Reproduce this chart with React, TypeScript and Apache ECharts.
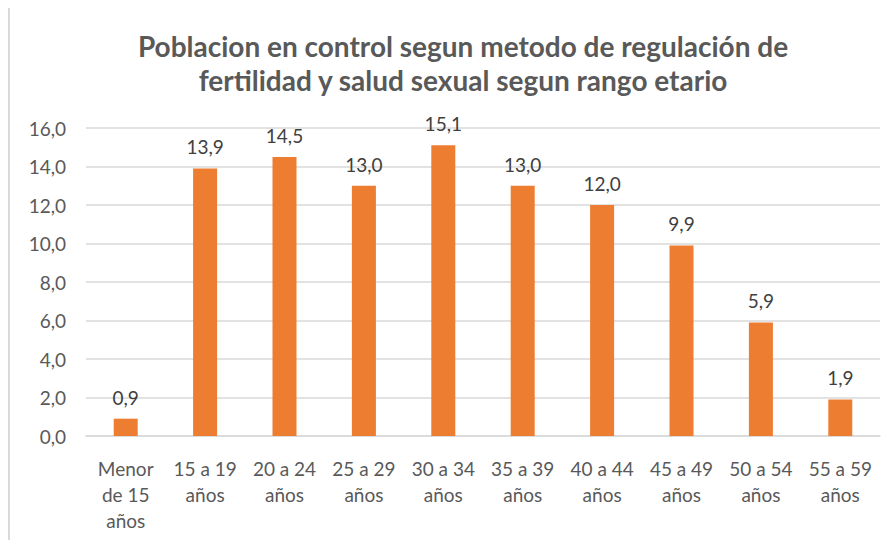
import React, { useEffect, useRef } from "react";
import * as echarts from "echarts";

const titleLines = [
  "Poblacion en control segun metodo de regulación de",
  "fertilidad y salud sexual segun rango etario",
];
const categories = [
  "Menor\nde 15\naños",
  "15 a 19\naños",
  "20 a 24\naños",
  "25 a 29\naños",
  "30 a 34\naños",
  "35 a 39\naños",
  "40 a 44\naños",
  "45 a 49\naños",
  "50 a 54\naños",
  "55 a 59\naños",
];
const values = [0.9, 13.9, 14.5, 13.0, 15.1, 13.0, 12.0, 9.9, 5.9, 1.9];
const yMin = 0;
const yMax = 16;
const yStep = 2;

const FONT = "Lato, 'Noto Sans', sans-serif";
const fmt = (v: number) => v.toFixed(1).replace(".", ",");

export default function App() {
  const ref = useRef<HTMLDivElement>(null);
  useEffect(() => {
    if (!ref.current) return;
    const chart = echarts.init(ref.current, undefined, { renderer: "svg" });
    chart.setOption({
      animation: false,
      backgroundColor: "#ffffff",
      title: {
        text: titleLines.join("\n"),
        left: 458,
        textAlign: "center",
        top: 24,
        textStyle: {
          fontFamily: FONT,
          fontSize: 28,
          fontWeight: "bold",
          color: "#595959",
          lineHeight: 34,
        },
      },
      graphic: [
        {
          type: "line",
          shape: { x1: 9, y1: 5, x2: 894, y2: 5 },
          style: { stroke: "#d9d9d9", lineWidth: 2 },
        },
        {
          type: "line",
          shape: { x1: 9, y1: 5, x2: 9, y2: 548 },
          style: { stroke: "#d9d9d9", lineWidth: 2 },
        },
      ],
      grid: { left: 86, right: 14, top: 128, bottom: 112 },
      xAxis: {
        type: "category",
        data: categories,
        axisLine: { lineStyle: { color: "#d9d9d9", width: 1.5 } },
        axisTick: { show: false },
        axisLabel: {
          fontFamily: FONT,
          fontSize: 19,
          color: "#595959",
          lineHeight: 26,
          margin: 19,
          interval: 0,
        },
      },
      yAxis: {
        type: "value",
        min: yMin,
        max: yMax,
        interval: yStep,
        axisLine: { show: false },
        axisTick: { show: false },
        splitLine: { lineStyle: { color: "#d9d9d9", width: 1.5 } },
        axisLabel: {
          fontFamily: FONT,
          fontSize: 19,
          color: "#595959",
          margin: 20,
          formatter: (v: number) => fmt(v),
        },
      },
      series: [
        {
          type: "bar",
          data: values,
          barWidth: 24,
          itemStyle: { color: "#ed7d31" },
          label: {
            show: true,
            position: "top",
            distance: 12,
            fontFamily: FONT,
            fontSize: 19,
            color: "#404040",
            formatter: (p: any) => fmt(p.value),
          },
        },
      ],
    });
    return () => chart.dispose();
  }, []);
  return <div ref={ref} style={{ width: 894, height: 548, margin: -8 }} />;
}
